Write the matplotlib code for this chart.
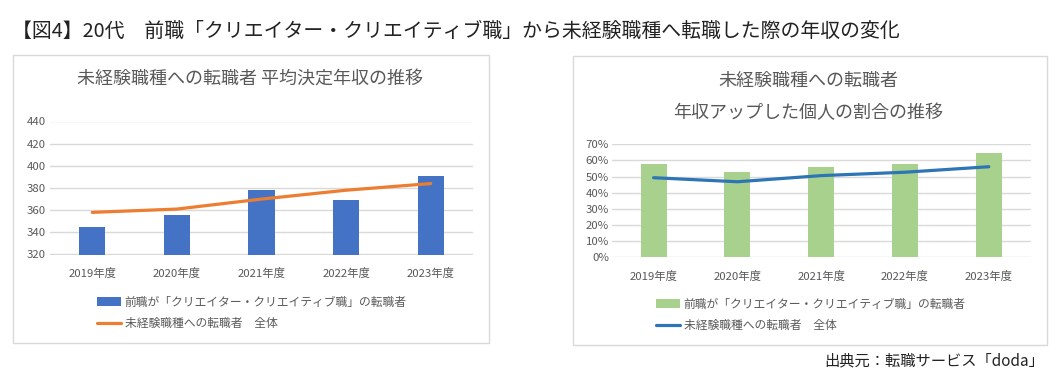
import matplotlib
matplotlib.use("Agg")
import matplotlib.pyplot as plt
from matplotlib.patches import Rectangle
from matplotlib.ticker import FuncFormatter

plt.rcParams['font.family'] = ['Noto Sans CJK JP', 'DejaVu Sans']

years = ["2019年度", "2020年度", "2021年度", "2022年度", "2023年度"]
salary_creative = [345, 356, 378, 369, 391]
salary_all = [358, 361, 370, 378, 384]
up_creative = [0.58, 0.527, 0.558, 0.576, 0.644]
up_all = [0.493, 0.468, 0.506, 0.527, 0.561]
salary_ticks = [320, 340, 360, 380, 400, 420, 440]
pct_ticks = [0, 0.1, 0.2, 0.3, 0.4, 0.5, 0.6, 0.7]

label_bar = "前職が「クリエイター・クリエイティブ職」の転職者"
label_line = "未経験職種への転職者　全体"
main_title = "【図4】20代　前職「クリエイター・クリエイティブ職」から未経験職種へ転職した際の年収の変化"
title_left = "未経験職種への転職者 平均決定年収の推移"
title_right = "未経験職種への転職者\n年収アップした個人の割合の推移"
source = "出典元：転職サービス「doda」"

W, H = 1057, 376
fig = plt.figure(figsize=(W / 100, H / 100), dpi=100)
fig.patch.set_facecolor("white")

def fx(px):
    return px / W

def fy(py):
    return 1 - py / H

GRID = "#d9d9d9"
TXT = "#595959"

# panel borders
for (x0, y0, x1, y1) in [(13, 55, 489, 343), (573, 56, 1047, 345)]:
    fig.patches.append(Rectangle((fx(x0), fy(y1)), fx(x1) - fx(x0), fy(y0) - fy(y1),
                                 transform=fig.transFigure, fill=False,
                                 edgecolor=GRID, linewidth=1.0))

fig.text(fx(12), fy(31), main_title, fontsize=14.3, color="#222222", va="center", ha="left")
fig.text(fx(1044), fy(361), source, fontsize=11, color="#222222", va="center", ha="right")

def style_axes(ax):
    for s in ax.spines.values():
        s.set_visible(False)
    ax.grid(axis="y", color=GRID, linewidth=1.0)
    ax.set_axisbelow(True)
    ax.tick_params(axis="both", length=0, labelsize=8.2, labelcolor=TXT)
    ax.tick_params(axis="y", pad=3)
    ax.tick_params(axis="x", pad=10)

# left chart
axL = fig.add_axes([fx(50), fy(254.5), fx(473) - fx(50), fy(121.5) - fy(254.5)])
x = list(range(len(years)))
b1 = axL.bar(x, salary_creative, width=0.31, color="#4472C4", label=label_bar, zorder=2)
l1, = axL.plot(x, salary_all, color="#ED7D31", linewidth=2.3, label=label_line, zorder=3,
               solid_capstyle="round")
axL.set_xlim(-0.5, 4.5)
axL.set_ylim(320, 440)
axL.set_yticks(salary_ticks)
axL.set_xticks(x)
axL.set_xticklabels(years)
style_axes(axL)
fig.text(fx(250), fy(79), title_left, fontsize=13, color=TXT, ha="center", va="center")
fig.legend(handles=[b1, l1], loc="center", bbox_to_anchor=(fx(252), fy(313)),
           frameon=False, fontsize=8.5, labelcolor=TXT, handlelength=2.0,
           handletextpad=0.35, labelspacing=0.75, borderpad=0)

# right chart
axR = fig.add_axes([fx(611.7), fy(257.3), fx(1030.7) - fx(611.7), fy(144.3) - fy(257.3)])
b2 = axR.bar(x, up_creative, width=0.31, color="#A9D18E", label=label_bar, zorder=2)
l2, = axR.plot(x, up_all, color="#2E75B6", linewidth=2.3, label=label_line, zorder=3,
               solid_capstyle="round")
axR.set_xlim(-0.5, 4.5)
axR.set_ylim(0, 0.7)
axR.set_yticks(pct_ticks)
axR.yaxis.set_major_formatter(FuncFormatter(lambda v, p: f"{v*100:.0f}%"))
axR.set_xticks(x)
axR.set_xticklabels(years)
style_axes(axR)
axR.tick_params(axis="y", pad=2)
fig.text(fx(808), fy(97), title_right, fontsize=13, color=TXT, ha="center", va="center",
         linespacing=2.0)
fig.legend(handles=[b2, l2], loc="center", bbox_to_anchor=(fx(811), fy(315)),
           frameon=False, fontsize=8.5, labelcolor=TXT, handlelength=2.0,
           handletextpad=0.35, labelspacing=0.75, borderpad=0)

fig.savefig("out.png", dpi=100, facecolor="white")
